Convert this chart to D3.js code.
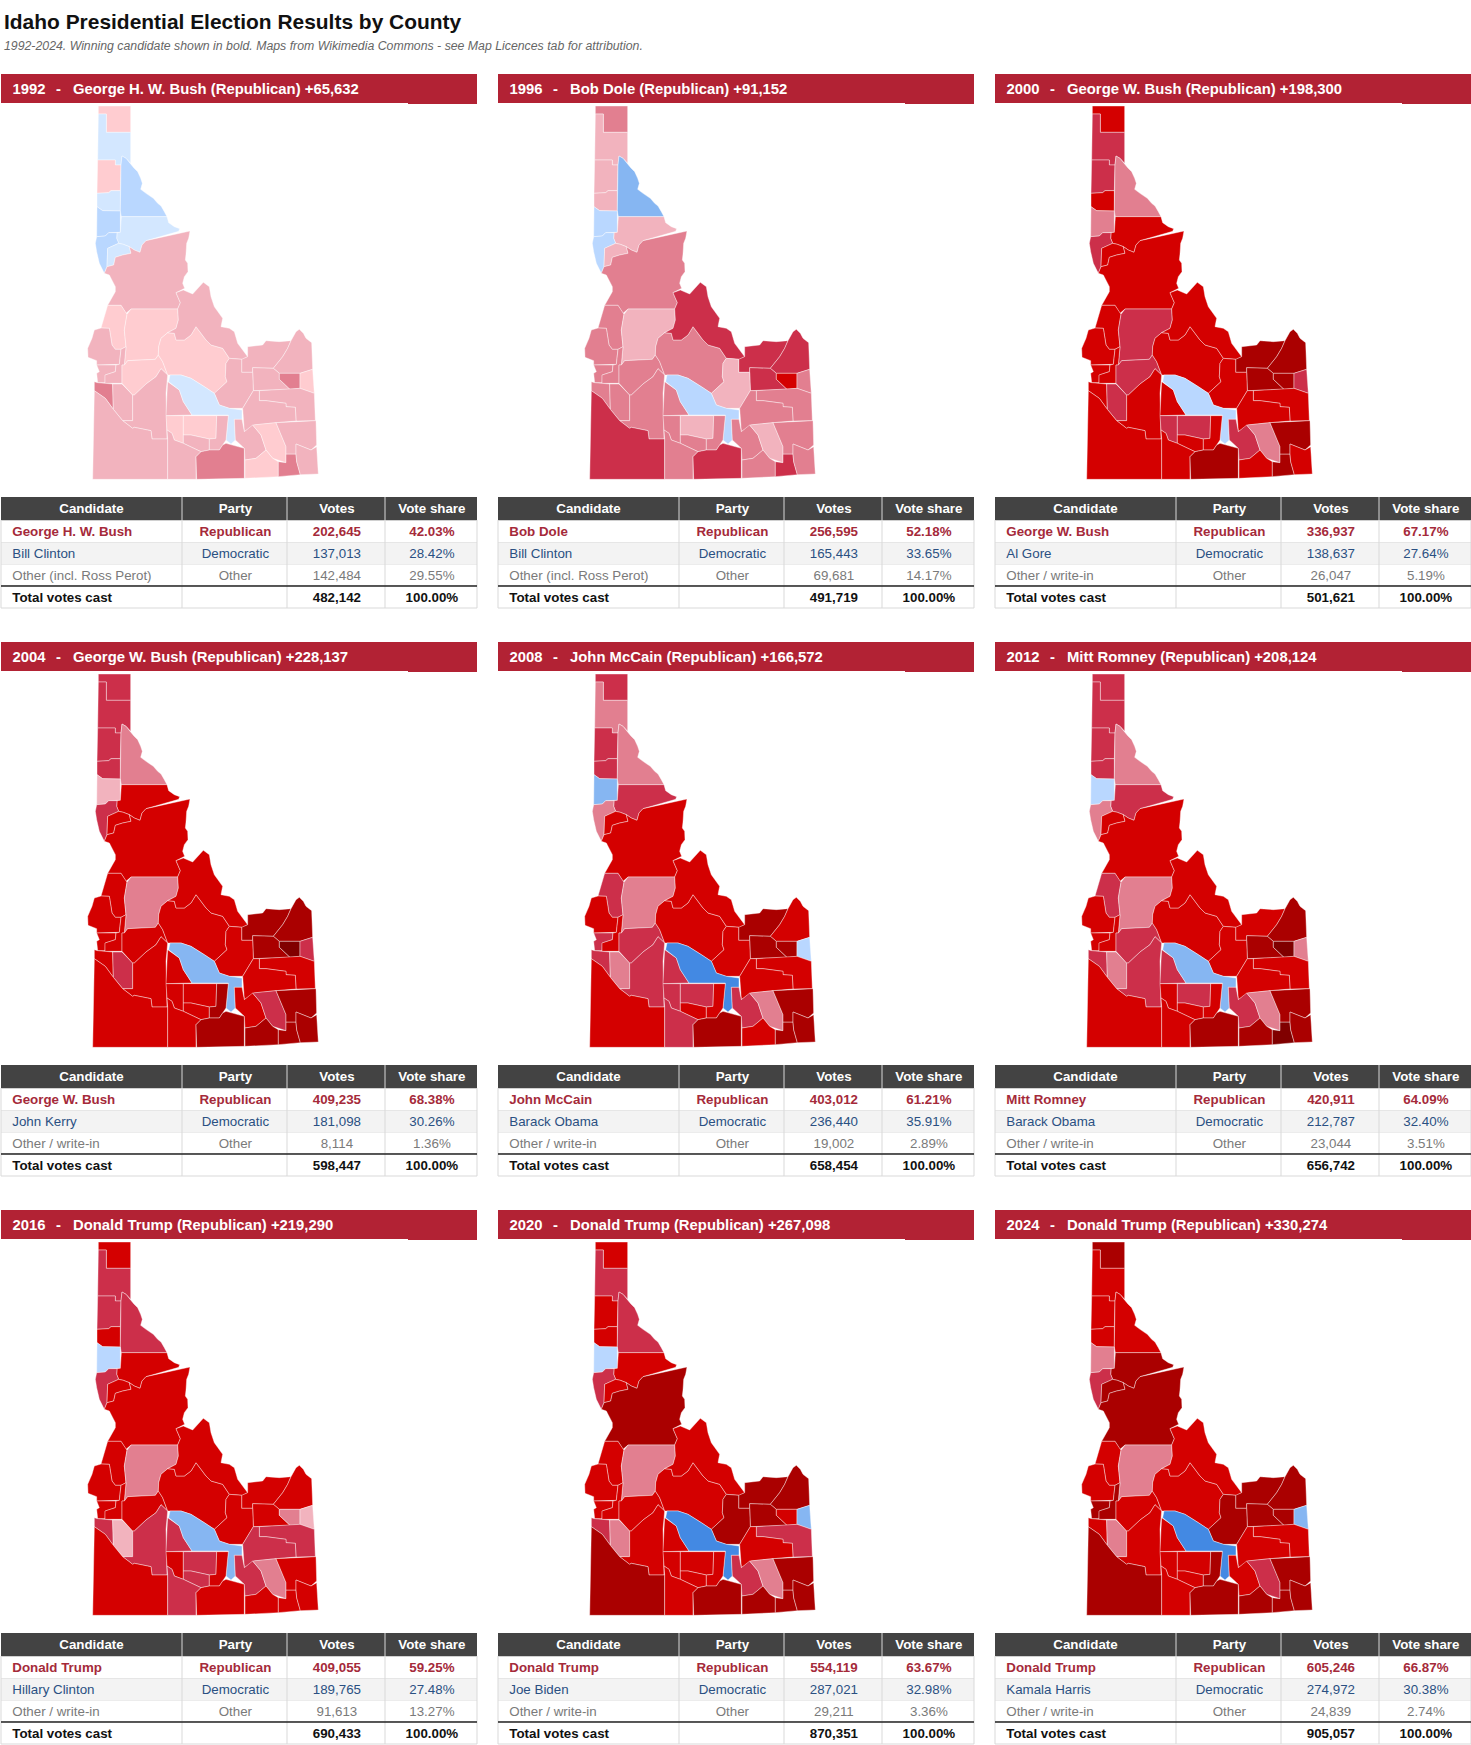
<!DOCTYPE html>
<html>
<head>
    <title>Idaho Presidential Election Results by County</title>
    <meta charset="utf-8" />
    <script src="https://cdnjs.cloudflare.com/ajax/libs/d3/7.8.5/d3.min.js"></script>
    <style type="text/css">
        body { margin: 0; background: #fff; font-family: 'Liberation Sans', Arial, Helvetica, sans-serif; }
        svg { display: block; }
        text { white-space: pre; }
    </style>
</head>
<body>
    <div id="chart"></div>
    <script type="text/javascript">
        var years = [1992, 1996, 2000, 2004, 2008, 2012, 2016, 2020, 2024];

        var winnerNames = ["George H. W. Bush", "Bob Dole", "George W. Bush", "George W. Bush", "John McCain", "Mitt Romney", "Donald Trump", "Donald Trump", "Donald Trump"];
        var winnerVotes = [202645, 256595, 336937, 409235, 403012, 420911, 409055, 554119, 605246];
        var winnerShare = [42.03, 52.18, 67.17, 68.38, 61.21, 64.09, 59.25, 63.67, 66.87];

        var demNames = ["Bill Clinton", "Bill Clinton", "Al Gore", "John Kerry", "Barack Obama", "Barack Obama", "Hillary Clinton", "Joe Biden", "Kamala Harris"];
        var demVotes = [137013, 165443, 138637, 181098, 236440, 212787, 189765, 287021, 274972];
        var demShare = [28.42, 33.65, 27.64, 30.26, 35.91, 32.40, 27.48, 32.98, 30.38];

        var otherNames = ["Other (incl. Ross Perot)", "Other (incl. Ross Perot)", "Other / write-in", "Other / write-in", "Other / write-in", "Other / write-in", "Other / write-in", "Other / write-in", "Other / write-in"];
        var otherVotes = [142484, 69681, 26047, 8114, 19002, 23044, 91613, 29211, 24839];
        var otherShare = [29.55, 14.17, 5.19, 1.36, 2.89, 3.51, 13.27, 3.36, 2.74];

        var totalVotes = [482142, 491719, 501621, 598447, 658454, 656742, 690433, 870351, 905057];

        var countyNames = ["Boundary", "Bonner", "Kootenai", "Benewah", "Shoshone", "Latah", "Clearwater", "Nez Perce", "Lewis", "Idaho",
            "Adams", "Washington", "Valley", "Payette", "Gem", "Canyon", "Ada", "Boise", "Elmore", "Owyhee",
            "Camas", "Custer", "Lemhi", "Clark", "Fremont", "Jefferson", "Madison", "Teton", "Butte", "Bonneville",
            "Bingham", "Blaine", "Gooding", "Lincoln", "Jerome", "Twin Falls", "Minidoka", "Cassia", "Power", "Bannock",
            "Oneida", "Franklin", "Caribou", "Bear Lake"];

        var countyOutlines = [
            [[97,18],[194,18],[194,97],[121,97],[121,42],[97,42]],
            [[97,42],[121,42],[121,97],[194,97],[194,190],[180,175],[168,168],[165,195],[148,195],[148,180],[95,180]],
            [[95,180],[148,180],[148,195],[165,195],[163,272],[135,272],[128,278],[93,280]],
            [[93,280],[128,278],[135,272],[163,272],[163,333],[110,332],[93,320]],
            [[168,168],[180,175],[194,192],[203,203],[215,215],[224,235],[229,250],[224,268],[240,280],[262,295],[275,310],[285,318],[295,335],[303,350],[166,350],[163,333],[165,195]],
            [[93,320],[110,332],[163,333],[163,397],[128,398],[118,408],[92,410]],
            [[166,350],[303,350],[308,368],[325,380],[341,386],[338,394],[240,422],[228,435],[222,457],[205,450],[190,440],[172,433],[158,430],[152,415],[153,398],[163,397]],
            [[92,410],[118,408],[128,398],[153,398],[152,415],[158,430],[125,445],[123,500],[115,520],[100,490],[92,455],[88,430]],
            [[125,445],[158,430],[172,433],[190,440],[195,460],[170,465],[148,472],[143,495],[123,500]],
            [[240,422],[372,393],[368,415],[362,430],[360,462],[358,480],[365,490],[366,515],[355,530],[350,550],[356,565],[330,578],[343,608],[335,627],[195,627],[180,640],[165,616],[125,616],[148,575],[148,560],[130,525],[115,520],[123,500],[143,495],[148,472],[170,465],[195,460],[190,440],[205,450],[222,457],[228,435]],
            [[125,616],[165,616],[183,643],[175,690],[180,740],[165,748],[148,748],[138,735],[130,685],[105,684]],
            [[105,684],[130,685],[138,735],[148,748],[165,748],[160,793],[92,795],[92,782],[66,772],[65,745],[78,715],[85,690]],
            [[195,627],[335,627],[337,660],[330,685],[305,698],[285,715],[278,740],[277,765],[268,778],[185,782],[175,795],[180,740],[175,690],[183,643]],
            [[92,795],[150,795],[148,815],[118,825],[117,848],[95,848],[92,820],[100,815]],
            [[165,748],[180,740],[175,795],[168,795],[168,850],[117,850],[117,825],[148,815],[150,795],[160,793]],
            [[85,845],[95,848],[117,850],[140,852],[142,928],[118,895],[85,872]],
            [[140,852],[168,852],[200,885],[200,962],[170,962],[142,928]],
            [[168,850],[168,795],[175,795],[185,782],[268,778],[277,765],[290,785],[305,825],[285,806],[270,830],[240,852],[205,885],[200,885]],
            [[200,885],[205,885],[240,852],[270,830],[285,806],[305,825],[300,880],[303,1017],[258,1017],[255,992],[205,982],[200,985],[170,962],[200,962]],
            [[85,872],[118,895],[142,928],[170,962],[200,985],[205,982],[255,992],[258,1017],[305,1017],[305,1138],[80,1138]],
            [[305,845],[340,870],[352,905],[378,945],[300,947],[303,880]],
            [[278,740],[285,715],[305,698],[325,700],[330,720],[355,720],[375,705],[390,680],[405,700],[420,720],[435,735],[470,745],[490,775],[480,790],[478,830],[483,845],[445,880],[415,860],[375,835],[345,825],[312,825],[305,825],[290,785],[277,765]],
            [[335,627],[343,608],[330,578],[352,570],[380,582],[412,547],[430,560],[435,590],[445,620],[470,655],[465,680],[490,685],[505,695],[515,730],[530,750],[545,770],[530,778],[490,775],[470,745],[435,735],[420,720],[405,700],[390,680],[375,705],[355,720],[330,720],[325,700],[305,698],[330,685],[337,660]],
            [[545,740],[590,735],[600,722],[640,725],[675,722],[665,745],[650,770],[622,805],[560,803],[560,817],[527,817],[527,778],[545,770]],
            [[675,722],[690,695],[700,688],[712,700],[720,715],[737,728],[740,808],[702,820],[640,820],[622,805],[650,770],[665,745]],
            [[560,803],[622,805],[640,820],[640,838],[672,868],[562,872],[560,817]],
            [[640,820],[702,820],[702,865],[672,868],[640,838]],
            [[702,820],[740,808],[745,880],[702,865]],
            [[490,775],[527,778],[527,817],[560,817],[562,872],[530,925],[490,925],[460,915],[445,880],[483,845],[478,830],[480,790]],
            [[580,872],[702,865],[745,880],[748,962],[690,963],[688,922],[660,920],[660,910],[600,902],[580,902]],
            [[562,872],[580,872],[580,902],[600,902],[660,910],[660,920],[688,922],[690,963],[630,968],[565,975],[535,995],[530,925]],
            [[312,825],[345,825],[375,835],[415,860],[445,880],[460,915],[490,925],[528,930],[528,958],[505,958],[508,1020],[495,1032],[480,1020],[487,945],[378,945],[352,905],[340,870],[308,845]],
            [[300,947],[352,947],[352,1030],[325,1020],[318,1000],[303,990]],
            [[352,947],[452,947],[450,1015],[430,1017],[375,1005],[352,1005]],
            [[352,1005],[375,1005],[430,1017],[430,1050],[405,1055],[352,1030]],
            [[305,1017],[303,990],[318,1000],[325,1020],[352,1030],[405,1055],[390,1070],[390,1138],[305,1138]],
            [[452,947],[487,947],[480,1020],[470,1035],[460,1050],[430,1050],[430,1017],[450,1015]],
            [[390,1070],[405,1055],[430,1050],[460,1050],[470,1035],[480,1030],[535,1045],[535,1135],[392,1138]],
            [[505,958],[528,958],[535,995],[560,975],[585,1005],[600,1050],[570,1075],[537,1080],[535,1045],[508,1020]],
            [[560,975],[630,968],[660,1040],[660,1088],[620,1075],[600,1050],[585,1005]],
            [[537,1080],[570,1075],[600,1050],[620,1075],[637,1085],[637,1130],[537,1135]],
            [[637,1130],[637,1085],[660,1088],[660,1062],[690,1062],[692,1085],[703,1124]],
            [[630,968],[750,962],[752,1035],[735,1050],[690,1032],[690,1062],[660,1062],[660,1040]],
            [[690,1032],[735,1050],[752,1040],[757,1122],[703,1124],[692,1085],[690,1062]]
        ];

        // margin class of each county, same order as countyNames
        var shades1992 = "r1 b1 r1 b1 b2 b2 b1 b2 b1 r2 r1 r2 r1 r2 r2 r3 r2 r1 r2 r2 r2 r1 r2 r2 r2 r2 r3 r1 r2 r2 r2 b1 r1 r1 r2 r2 r2 r3 r2 r1 r1 r3 r2 r2".split(" ");
        var shades1996 = "r3 r2 r2 r2 b3 b2 r2 b2 r2 r3 r3 r3 r2 r3 r3 r3 r3 r3 r3 r4 r3 r3 r4 r4 r4 r4 r5 r3 r2 r3 r3 b2 r3 r2 r3 r3 r3 r4 r3 r2 r3 r4 r3 r3".split(" ");
        var shades2000 = "r5 r4 r4 r5 r3 r3 r5 r4 r5 r5 r5 r5 r4 r5 r5 r5 r4 r4 r5 r5 r5 r5 r5 r6 r6 r6 r6 r4 r5 r5 r5 b2 r4 r4 r5 r5 r5 r6 r4 r3 r5 r6 r6 r5".split(" ");
        var shades2004 = "r4 r4 r4 r4 r3 r2 r5 r4 r5 r5 r5 r5 r3 r5 r5 r5 r4 r5 r5 r5 r5 r5 r5 r6 r6 r6 r7 r4 r5 r5 r5 b3 r5 r5 r5 r5 r6 r6 r5 r4 r6 r6 r6 r6".split(" ");
        var shades2008 = "r4 r3 r4 r4 r3 b3 r4 r3 r5 r5 r4 r5 r3 r4 r5 r4 r3 r4 r4 r5 r4 r5 r5 r6 r5 r6 r6 b2 r5 r5 r5 b4 r4 r4 r5 r4 r5 r6 r4 r3 r5 r6 r6 r6".split(" ");
        var shades2012 = "r4 r4 r4 r4 r3 b2 r4 r3 r5 r5 r4 r5 r3 r5 r5 r4 r3 r4 r4 r5 r4 r5 r5 r5 r6 r6 r7 r3 r5 r5 r5 b3 r5 r4 r5 r5 r5 r6 r4 r3 r6 r7 r6 r6".split(" ");
        var shades2016 = "r5 r4 r4 r5 r4 b2 r5 r4 r5 r5 r5 r5 r3 r5 r5 r4 r2 r5 r4 r5 r4 r5 r5 r5 r5 r5 r3 r2 r5 r4 r4 b3 r5 r4 r4 r4 r5 r5 r4 r3 r5 r5 r5 r5".split(" ");
        var shades2020 = "r5 r4 r5 r5 r4 b2 r5 r4 r5 r6 r5 r5 r3 r5 r5 r4 r3 r5 r5 r6 r5 r5 r5 r6 r6 r6 r5 b3 r6 r4 r5 b4 r5 r5 r5 r5 r5 r6 r4 r3 r6 r6 r6 r6".split(" ");
        var shades2024 = "r6 r5 r5 r5 r5 r3 r6 r4 r6 r6 r5 r5 r3 r6 r6 r5 r3 r5 r5 r6 r5 r5 r5 r6 r6 r6 r6 b3 r6 r5 r5 b4 r5 r5 r5 r5 r6 r6 r5 r4 r6 r6 r6 r6".split(" ");
        var shadesByYear = [shades1992, shades1996, shades2000, shades2004, shades2008, shades2012, shades2016, shades2020, shades2024];

        var shadeColor = d3.scaleOrdinal()
            .domain(["b1", "b2", "b3", "b4", "r1", "r2", "r3", "r4", "r5", "r6", "r7"])
            .range(["#D3E7FF", "#B9D7FF", "#86B6F2", "#4389E3", "#FFCCD0", "#F2B3BE", "#E27F90", "#CC2F4A", "#D40000", "#AA0000", "#800000"]);

        var fmt = d3.format(",");
        var pct = function (v) { return d3.format(".2f")(v) + "%"; };

        var svg = d3.select("#chart").append("svg")
            .attr("width", 1471)
            .attr("height", 1745);

        svg.append("text")
            .attr("x", 4).attr("y", 29)
            .attr("font-size", 20.95).attr("font-weight", "bold").attr("fill", "#111")
            .text("Idaho Presidential Election Results by County");

        svg.append("text")
            .attr("x", 4).attr("y", 50)
            .attr("font-size", 12.3).attr("font-style", "italic").attr("fill", "#666")
            .text("1992-2024. Winning candidate shown in bold. Maps from Wikimedia Commons - see Map Licences tab for attribution.");

        // panel grid
        var colX = d3.scaleLinear().domain([0, 2]).range([0, 994]);
        var rowY = d3.scaleLinear().domain([0, 2]).range([0, 1136]);

        // map units -> panel pixels
        var mapX = d3.scaleLinear().domain([0, 810]).range([66, 336]);
        var mapY = d3.scaleLinear().domain([0, 1170]).range([100, 490]);
        var outline = d3.line()
            .x(function (d) { return mapX(d[0]); })
            .y(function (d) { return mapY(d[1]); })
            .curve(d3.curveLinearClosed);

        var edges = [1, 182, 287, 385, 477];
        var headers = ["Candidate", "Party", "Votes", "Vote share"];
        var rowTops = [520.5, 542.5, 564.5, 586];
        var baselines = [536, 558, 580, 602];
        var rowBottom = 608;

        // cell centre, the source table sits a hair right of the middle
        function cellMid(c) {
            return (edges[c] + edges[c + 1]) / 2 + (c === 0 ? 0 : 0.9);
        }

        years.forEach(function (year, i) {
            var g = svg.append("g")
                .attr("transform", "translate(" + colX(i % 3) + "," + rowY(Math.floor(i / 3)) + ")");

            // title bar, runs a pixel lower on its right end
            g.append("rect")
                .attr("x", 1).attr("y", 74).attr("width", 476).attr("height", 29)
                .attr("fill", "#B22234");
            g.append("rect")
                .attr("x", 408).attr("y", 103).attr("width", 69).attr("height", 1)
                .attr("fill", "#B22234");

            var barParts = [
                { x: 12.5, t: String(year) },
                { x: 56, t: "-" },
                { x: 73, t: winnerNames[i] + " (Republican) +" + fmt(winnerVotes[i] - demVotes[i]) }
            ];
            barParts.forEach(function (p) {
                g.append("text")
                    .attr("x", p.x).attr("y", 93.5)
                    .attr("font-size", 14.85).attr("font-weight", "bold").attr("fill", "#fff")
                    .text(p.t);
            });

            // map
            g.append("g").selectAll("path")
                .data(countyOutlines)
                .enter()
                .append("path")
                .attr("d", outline)
                .attr("fill", function (d, k) { return shadeColor(shadesByYear[i][k]); })
                .attr("stroke", "#fff")
                .attr("stroke-opacity", 0.5)
                .attr("stroke-width", 0.8)
                .append("title")
                .text(function (d, k) { return countyNames[k]; });

            // table
            var rows = [
                { cells: [winnerNames[i], "Republican", fmt(winnerVotes[i]), pct(winnerShare[i])], color: "#A52A3A", bold: true, bg: "#fff" },
                { cells: [demNames[i], "Democratic", fmt(demVotes[i]), pct(demShare[i])], color: "#2A5082", bold: false, bg: "#F3F3F3" },
                { cells: [otherNames[i], "Other", fmt(otherVotes[i]), pct(otherShare[i])], color: "#7A7A7A", bold: false, bg: "#fff" },
                { cells: ["Total votes cast", "", fmt(totalVotes[i]), "100.00%"], color: "#111", bold: true, bg: "#fff" }
            ];

            g.append("rect")
                .attr("x", 1).attr("y", 497).attr("width", 476).attr("height", 23.5)
                .attr("fill", "#434343");
            headers.forEach(function (h, c) {
                g.append("text")
                    .attr("x", cellMid(c)).attr("y", 513)
                    .attr("text-anchor", "middle")
                    .attr("font-size", 13.33).attr("font-weight", "bold").attr("fill", "#fff")
                    .text(h);
                if (c > 0) {
                    g.append("line")
                        .attr("x1", edges[c]).attr("x2", edges[c])
                        .attr("y1", 497).attr("y2", 520.5)
                        .attr("stroke", "#fff").attr("stroke-width", 0.8);
                }
            });

            rows.forEach(function (r, n) {
                var top = rowTops[n];
                var bottom = n < 3 ? rowTops[n + 1] : rowBottom;
                g.append("rect")
                    .attr("x", 1).attr("y", top).attr("width", 476).attr("height", bottom - top)
                    .attr("fill", r.bg);
                r.cells.forEach(function (t, c) {
                    g.append("text")
                        .attr("x", c === 0 ? 12.3 : cellMid(c))
                        .attr("y", baselines[n])
                        .attr("text-anchor", c === 0 ? "start" : "middle")
                        .attr("font-size", 13.33)
                        .attr("font-weight", r.bold ? "bold" : "normal")
                        .attr("fill", r.color)
                        .text(t);
                });
                g.append("line")
                    .attr("x1", 1).attr("x2", 477)
                    .attr("y1", bottom).attr("y2", bottom)
                    .attr("stroke", "#D9D9D9").attr("stroke-width", 1);
            });

            edges.forEach(function (x) {
                g.append("line")
                    .attr("x1", x).attr("x2", x)
                    .attr("y1", 520).attr("y2", rowBottom)
                    .attr("stroke", "#D9D9D9").attr("stroke-width", 1);
            });

            // heavy rule above the total row
            g.append("line")
                .attr("x1", 1).attr("x2", 477)
                .attr("y1", 586).attr("y2", 586)
                .attr("stroke", "#222").attr("stroke-width", 1.6);
        });
    </script>
</body>
</html>
